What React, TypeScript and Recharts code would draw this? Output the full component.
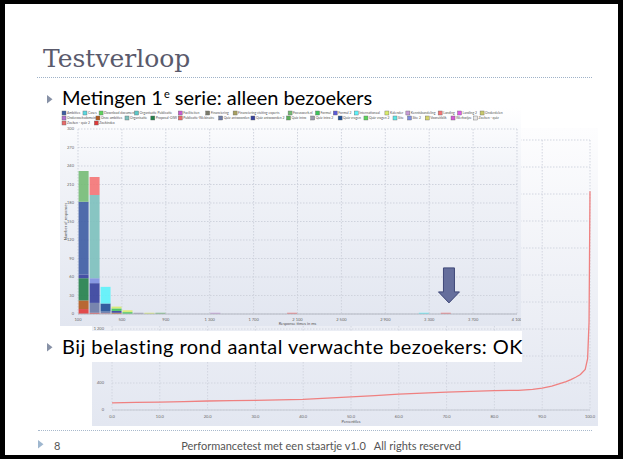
import React from 'react';
import { BarChart, Bar, XAxis, YAxis, CartesianGrid, LineChart, Line, ReferenceDot, Label } from 'recharts';

// ---------- Histogram (response times, bins of 100 ms) ----------
const binStarts = [100, 200, 300, 400, 500, 600, 700, 800, 1300, 2000, 3200, 3400];
const binWidth = 100;

const zoekindex = [8, 2, 1, 0, 0, 0, 0, 0, 0, 0, 0, 0];
const onzeAmbities = [14, 0, 0, 2, 0, 0, 0, 0, 0, 0, 0, 0];
const proposalOiw = [36, 0, 0, 0, 0, 0, 0, 0, 0, 0, 0, 0];
const quizAntwoorden = [0, 16, 3, 0, 0, 0, 0, 0, 0, 0, 0, 0];
const quizAntwoorden2 = [6, 32, 0, 3, 0, 0, 0, 0, 0, 0, 0, 0];
const site2 = [0, 8, 0, 0, 0, 0, 0, 0, 0, 0, 0, 0];
const quizVragen = [0, 0, 13, 0, 0, 0, 0, 0, 0, 0, 0, 0];
const ambities = [118, 0, 0, 0, 0, 0, 0, 0, 0, 0, 0, 0];
const formul = [0, 0, 0, 4, 3, 0, 0, 0, 0, 0, 0, 0];
const kalender = [0, 0, 0, 3, 3, 0, 2, 0, 0, 0, 0, 0];
const organisatie = [0, 135, 0, 0, 0, 0, 0, 0, 0, 0, 0, 0];
const internationaal = [0, 0, 27, 0, 0, 0, 0, 0, 0, 0, 2, 0];
const focuswerk = [50, 0, 0, 0, 0, 0, 0, 2, 0, 0, 0, 0];
const landing = [0, 29, 0, 0, 0, 0, 0, 0, 0, 2, 0, 2];
const quizIntro2 = [0, 0, 0, 0, 0, 2, 0, 0, 0, 0, 0, 0];
const kennisbundeling = [0, 0, 0, 0, 0, 0, 0, 0, 2, 0, 0, 0];

const histSeriesNames = [
  'Zoekindex', 'Onze ambities', 'Proposal-OIW', 'Quiz antwoorden', 'Quiz antwoorden 2', 'Site 2',
  'Quiz vragen', 'Ambities', 'Formul', 'Kalender', 'Organisatie', 'Internationaal', 'Focuswerk.nl',
  'Landing', 'Quiz intro 2', 'Kennisbundeling',
];
const histSeriesValues = [
  zoekindex, onzeAmbities, proposalOiw, quizAntwoorden, quizAntwoorden2, site2,
  quizVragen, ambities, formul, kalender, organisatie, internationaal, focuswerk,
  landing, quizIntro2, kennisbundeling,
];

const histXTicks = [100, 500, 900, 1300, 1700, 2100, 2500, 2900, 3300, 3700, 4100];
const histYTicks = [0, 30, 60, 90, 120, 150, 180, 210, 240, 270, 300];

// Legend (rows as in the screenshot)
const legendRow1 = ['Ambities', 'Cases', 'Download document', 'Organisatie Publicatie', 'Faciliteiten', 'Financiering', 'Financiering visiting experts', 'Focuswerk.nl', 'Formul', 'Formul 2', 'Internationaal', 'Kalender', 'Kennisbundeling', 'Landing', 'Landing 2', 'Onderdelen'];
const legendRow1Colors = ['#3d5ca3', '#5ad8e0', '#5ed45e', '#5cc8c8', '#c85ad0', '#7a7a6a', '#a8a060', '#74bb74', '#3cc45a', '#5a5ad8', '#5cf2fa', '#d8ec6a', '#c79ad6', '#f47474', '#e05ae8', '#c8c86a'];
const legendRow2 = ['Onderzoeksdomein', 'Onze ambities', 'Organisatie', 'Proposal-OIW', 'Publicatie-Webinaire', 'Quiz antwoorden', 'Quiz antwoorden 2', 'Quiz intro', 'Quiz intro 2', 'Quiz vragen', 'Quiz vragen 2', 'Site', 'Site 2', 'Vooruitblik', 'Werkwijze', 'Zoeken - quiz'];
const legendRow2Colors = ['#b070d0', '#b35a1e', '#7cc0bc', '#22804a', '#e86a6a', '#6b7aa6', '#35409c', '#5ab05a', '#9a9aae', '#1f4f96', '#5ad45a', '#5ae8e8', '#7d8fe0', '#d4d46a', '#d45ad4', '#e8e8e8'];
const legendRow3 = ['Zoeken - quiz 2', 'Zoekindex'];
const legendRow3Colors = ['#e86a6a', '#e03a3a'];

// Annotation arrow target (ms, count)
const arrowAt = { x: 3480, y: 18 };

// ---------- Percentile chart ----------
const percentiles = [0, 5, 10, 15, 20, 25, 30, 35, 40, 45, 50, 55, 60, 65, 70, 75, 80, 85, 88, 90, 92, 94, 95, 96, 97, 98, 99, 99.5, 99.8, 100];
const percentileMs = [107, 112, 117, 124, 133, 138, 143, 150, 158, 175, 194, 214, 235, 250, 265, 276, 286, 292, 305, 325, 355, 398, 420, 449, 485, 525, 602, 760, 1300, 3240];
const pctXTicks = [0, 10, 20, 30, 40, 50, 60, 70, 80, 90, 100];
const pctYTicks = [0, 400, 800, 1200, 1600, 2000, 2400, 2800, 3200, 3600, 4000];
// tick labels hidden under the slide's text box
const pctYHiddenLabels = [800];

// ---------- helpers ----------
const FONT = 'Lato, "Open Sans", sans-serif';
const fmtThousands = (v: number) =>
  v >= 1000 ? `${Math.floor(v / 1000)} ${String(v % 1000).padStart(3, '0')}` : `${v}`;

const allLegendNames = [...legendRow1, ...legendRow2, ...legendRow3];
const allLegendColors = [...legendRow1Colors, ...legendRow2Colors, ...legendRow3Colors];
const colorOf = (name: string) => allLegendColors[allLegendNames.indexOf(name)] || '#999';

const histData = binStarts.map((start, i) => {
  const row: any = { x: start + binWidth / 2 };
  histSeriesNames.forEach((n, k) => {
    row[n] = histSeriesValues[k][i];
  });
  return row;
});

const pctData = percentiles.map((p, i) => ({ p, ms: percentileMs[i] }));

const ArrowShape = (props: any) => {
  const { cx, cy } = props;
  if (cx == null || cy == null) return null;
  const pts = [
    [cx - 5.5, cy - 35], [cx + 5.5, cy - 35], [cx + 5.5, cy - 11], [cx + 10.5, cy - 11],
    [cx, cy], [cx - 10.5, cy - 11], [cx - 5.5, cy - 11],
  ].map((p) => p.join(',')).join(' ');
  return <polygon points={pts} fill="#656e9c" stroke="#3f4878" strokeWidth={1} />;
};

const PctYTick = (props: any) => {
  const { x, y, payload } = props;
  if (pctYHiddenLabels.includes(payload.value)) return <g />;
  return (
    <text x={x} y={y} dy={1.4} textAnchor="end" fontSize={4} fill="#666" fontFamily={FONT}>
      {fmtThousands(payload.value)}
    </text>
  );
};

const LegendSvg = () => {
  const rows = [
    { names: legendRow1, colors: legendRow1Colors, y: 5 },
    { names: legendRow2, colors: legendRow2Colors, y: 10 },
    { names: legendRow3, colors: legendRow3Colors, y: 15 },
  ];
  const charW = 1.62;
  return (
    <svg width={461} height={20} style={{ position: 'absolute', left: 0, top: 0 }}>
      {rows.map((r, ri) => {
        let x = 2;
        return (
          <g key={ri}>
            {r.names.map((n, i) => {
              const x0 = x;
              x += 8 + n.length * charW;
              return (
                <g key={n}>
                  <rect x={x0} y={r.y - 2} width={4} height={4} fill={r.colors[i]} stroke="#666" strokeWidth={0.4} />
                  <text x={x0 + 5} y={r.y + 1.2} fontSize={3.4} fill="#555" fontFamily={FONT}>{n}</text>
                </g>
              );
            })}
          </g>
        );
      })}
    </svg>
  );
};

const Bullet = ({ x, y, color }: { x: number; y: number; color: string }) => (
  <svg width={8} height={10} style={{ position: 'absolute', left: x, top: y }}>
    <polygon points="0,0 0,8.5 5.5,4.25" fill={color} />
  </svg>
);

export default function App() {
  const tickStyle = { fontSize: 4, fill: '#666', fontFamily: FONT };
  return (
    <div style={{ position: 'absolute', left: 0, top: 0, width: 623, height: 459, background: '#fff', overflow: 'hidden', fontFamily: FONT }}>
      {/* Title */}
      <div style={{ position: 'absolute', left: 43, top: 46, fontFamily: '"DejaVu Serif", serif', fontSize: 25, lineHeight: '25px', color: '#5a5a6c', whiteSpace: 'nowrap' }}>
        Testverloop
      </div>
      <div style={{ position: 'absolute', left: 37, top: 77, width: 555, borderTop: '1px dotted #9fb2c8' }} />

      {/* Bullet 1 */}
      <Bullet x={47} y={95} color="#8791a6" />
      <div style={{ position: 'absolute', left: 62, top: 87, fontSize: 20, lineHeight: '20px', color: '#000', whiteSpace: 'nowrap' }}>
        Metingen 1<span style={{ fontSize: 11, position: 'relative', top: -7, marginLeft: 1 }}>e</span> serie: alleen bezoekers
      </div>

      {/* Percentile chart panel (behind) */}
      <div style={{ position: 'absolute', left: 92, top: 128, width: 506, height: 298, background: 'linear-gradient(#fdfdfe 0%, #eef0f6 55%, #e3e7f1 100%)' }}>
        <LineChart width={506} height={298} data={pctData} margin={{ top: 12, right: 8, bottom: 0, left: 0 }}>
          <CartesianGrid stroke="#d2d6e0" strokeDasharray="1.5 1.5" />
          <XAxis dataKey="p" type="number" domain={[0, 100]} ticks={pctXTicks} interval={0}
            tickFormatter={(v: number) => v.toFixed(1)} tick={tickStyle} tickSize={3} tickLine={false}
            axisLine={{ stroke: '#c6cad4' }} height={16}>
            <Label value="Percentiles" position="insideBottom" offset={3} style={{ fontSize: 4, fill: '#555', fontFamily: FONT }} />
          </XAxis>
          <YAxis type="number" domain={[0, 4000]} ticks={pctYTicks} interval={0} width={20}
            tick={<PctYTick />} tickLine={false} axisLine={false} />
          <Line type="linear" dataKey="ms" stroke="#ef8080" strokeWidth={1.3} dot={false} isAnimationActive={false} />
        </LineChart>
      </div>

      {/* Histogram panel */}
      <div style={{ position: 'absolute', left: 60, top: 108, width: 461, height: 218, background: 'linear-gradient(#ffffff 0%, #fafbfd 9%, #f1f3f8 30%, #e2e6f0 100%)' }}>
        <BarChart width={461} height={218} data={histData} margin={{ top: 21, right: 4, bottom: 0, left: 0 }} barCategoryGap={0.6}>
          <CartesianGrid stroke="#cfd3dd" strokeDasharray="1.5 1.5" />
          <XAxis dataKey="x" type="number" domain={[100, 4100]} ticks={histXTicks} interval={0}
            tickFormatter={fmtThousands} tick={tickStyle} tickSize={2} tickLine={false}
            axisLine={{ stroke: '#b4b8c2' }} height={12} allowDataOverflow>
            <Label value="Response times in ms" position="insideBottom" offset={1} style={{ fontSize: 4, fill: '#555', fontFamily: FONT }} />
          </XAxis>
          <YAxis type="number" domain={[0, 300]} ticks={histYTicks} interval={0} width={18}
            tick={tickStyle} tickSize={2} tickLine={false} axisLine={false}>
            <Label value="Number of responses" angle={-90} position="center" dx={-3} style={{ fontSize: 4, fill: '#555', fontFamily: FONT }} />
          </YAxis>
          {histSeriesNames.map((n) => (
            <Bar key={n} dataKey={n} stackId="a" fill={colorOf(n)} fillOpacity={0.9} isAnimationActive={false} />
          ))}
          <ReferenceDot x={arrowAt.x} y={arrowAt.y} r={0} shape={ArrowShape} />
        </BarChart>
        <LegendSvg />
      </div>

      {/* Bullet 2 with white backdrop */}
      <div style={{ position: 'absolute', left: 60, top: 331, width: 462, height: 31, background: '#fff' }} />
      <Bullet x={47} y={343} color="#8791a6" />
      <div style={{ position: 'absolute', left: 62, top: 336, fontSize: 20, lineHeight: '20px', letterSpacing: 0.45, color: '#000', whiteSpace: 'nowrap' }}>
        Bij belasting rond aantal verwachte bezoekers: OK
      </div>

      {/* Footer */}
      <div style={{ position: 'absolute', left: 38, top: 430, width: 554, borderTop: '1px dotted #a8b9cc' }} />
      <Bullet x={38} y={440} color="#9fb7cf" />
      <div style={{ position: 'absolute', left: 54, top: 440, fontSize: 11, lineHeight: '11px', color: '#555' }}>8</div>
      <div style={{ position: 'absolute', left: 150, width: 342, top: 440, fontSize: 11, lineHeight: '11px', color: '#555', textAlign: 'center', whiteSpace: 'pre' }}>
        {'Performancetest met een staartje v1.0   All rights reserved'}
      </div>

      {/* Slide frame */}
      <div style={{ position: 'absolute', left: 0, top: 0, width: 623, height: 459, boxSizing: 'border-box', borderStyle: 'solid', borderColor: '#000', borderWidth: '4px 5px 4px 5px', pointerEvents: 'none' }} />
    </div>
  );
}
